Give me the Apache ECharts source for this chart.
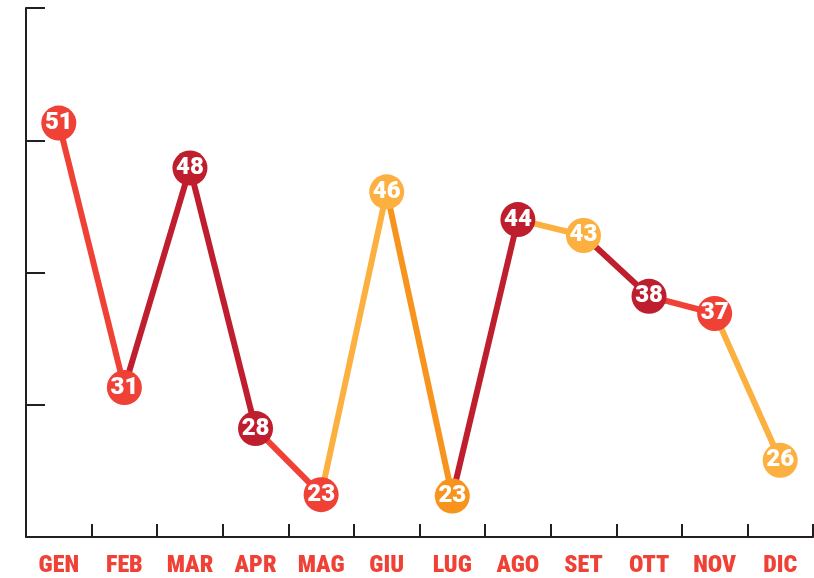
<!DOCTYPE html>
<html>
<head>
<meta charset="utf-8">
<script src="https://cdn.jsdelivr.net/npm/echarts@6/dist/echarts.min.js"></script>
<style>
html,body{margin:0;padding:0;background:#fff;}
#chart{width:814px;height:578px;}
</style>
</head>
<body>
<div id="chart"></div>
<script>
// Data
var months = ['GEN','FEB','MAR','APR','MAG','GIU','LUG','AGO','SET','OTT','NOV','DIC'];
var values = [51.3, 31.3, 47.9, 28.2, 23.2, 46.1, 23.1, 44.0, 42.8, 38.2, 36.9, 25.8];
var yTicks = [20, 30, 40, 50, 60];

var RED = '#ef4136', DARK = '#be1e2d', LIGHT = '#fbb040', ORANGE = '#f7941d';
// colour of each segment (from month i to i+1)
var segmentColors = [RED, DARK, DARK, RED, LIGHT, ORANGE, DARK, LIGHT, DARK, RED, LIGHT];
// colour of each point
var pointColors = [RED, RED, DARK, DARK, RED, LIGHT, ORANGE, DARK, LIGHT, DARK, RED, LIGHT];

var series = [];
segmentColors.forEach(function (c, i) {
  var d = values.map(function () { return null; });
  d[i] = values[i];
  d[i + 1] = values[i + 1];
  series.push({
    type: 'line',
    data: d,
    symbol: 'none',
    connectNulls: false,
    silent: true,
    z: 2,
    lineStyle: { color: c, width: 6 }
  });
});
series.push({
  type: 'scatter',
  z: 5,
  symbolSize: 35,
  data: values.map(function (v, i) {
    return { value: v, itemStyle: { color: pointColors[i], opacity: 1 } };
  }),
  label: {
    show: true,
    position: 'inside',
    color: '#ffffff',
    fontFamily: 'Roboto, sans-serif',
    fontWeight: 900,
    fontSize: 24,
    formatter: function (p) { return Math.round(p.value); }
  }
});

var chart = echarts.init(document.getElementById('chart'), null, { renderer: 'canvas' });
chart.setOption({
  animation: false,
  backgroundColor: '#ffffff',
  grid: { left: 26, right: 1, top: 8, bottom: 41, containLabel: false },
  xAxis: {
    type: 'category',
    data: months,
    boundaryGap: true,
    axisLine: { show: true, lineStyle: { color: '#231f20', width: 2 } },
    axisTick: { show: true, inside: true, length: 13, alignWithLabel: false, lineStyle: { color: '#231f20', width: 2 } },
    axisLabel: {
      color: RED,
      fontFamily: '"Roboto Condensed", sans-serif',
      fontWeight: 900,
      fontSize: 24,
      margin: 17,
      interval: 0
    },
    splitLine: { show: false }
  },
  yAxis: {
    type: 'value',
    min: yTicks[0],
    max: yTicks[yTicks.length - 1],
    interval: yTicks[1] - yTicks[0],
    axisLine: { show: true, lineStyle: { color: '#231f20', width: 2 } },
    axisTick: { show: true, inside: true, length: 19, lineStyle: { color: '#231f20', width: 2 } },
    axisLabel: { show: false },
    splitLine: { show: false }
  },
  series: series
});
</script>
</body>
</html>
